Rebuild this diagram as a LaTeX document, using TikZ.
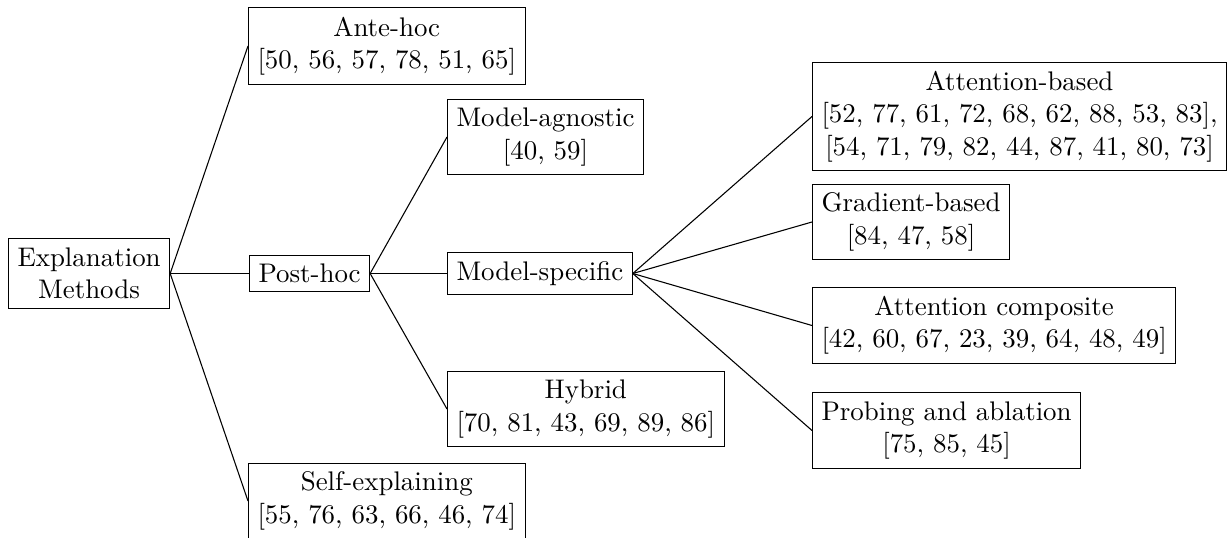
\documentclass[tikz,border=0pt]{standalone}
\begin{document}
\begin{tikzpicture}[x=0.3717pt,y=-0.3717pt,
  box/.style={draw, align=center, anchor=west, line width=0.4pt},
  link/.style={draw, line width=0.4pt}]
\useasboundingbox (0,0) rectangle (1227,538);

% root
\node[box] (em) at (8,273.5) {Explanation\\Methods};

% first level
\node[box] (ante) at (248,46) {Ante-hoc\\{[50, 56, 57, 78, 51, 65]}};
\node[box] (post) at (249,273.5) {Post-hoc};
\node[box] (self) at (248,501) {Self-explaining\\{[55, 76, 63, 66, 46, 74]}};

% post-hoc branches
\node[box] (agn) at (447,137) {Model-agnostic\\{[40, 59]}};
\node[box] (spec) at (447,273.5) {Model-specific};
\node[box] (hyb) at (447,409) {Hybrid\\{[70, 81, 43, 69, 89, 86]}};

% model-specific branches
\node[box] (attb) at (812,116.5) {Attention-based\\{[52, 77, 61, 72, 68, 62, 88, 53, 83]},\\{[54, 71, 79, 82, 44, 87, 41, 80, 73]}};
\node[box] (grad) at (812,222) {Gradient-based\\{[84, 47, 58]}};
\node[box] (attc) at (812,325.5) {Attention composite\\{[42, 60, 67, 23, 39, 64, 48, 49]}};
\node[box] (prob) at (812,430.5) {Probing and ablation\\{[75, 85, 45]}};

% connectors
\foreach \c in {ante,post,self}
  \path[link] (em.east) -- (\c.west);
\foreach \c in {agn,spec,hyb}
  \path[link] (post.east) -- (\c.west);
\foreach \c in {attb,grad,attc,prob}
  \path[link] (spec.east) -- (\c.west);
\end{tikzpicture}
\end{document}
